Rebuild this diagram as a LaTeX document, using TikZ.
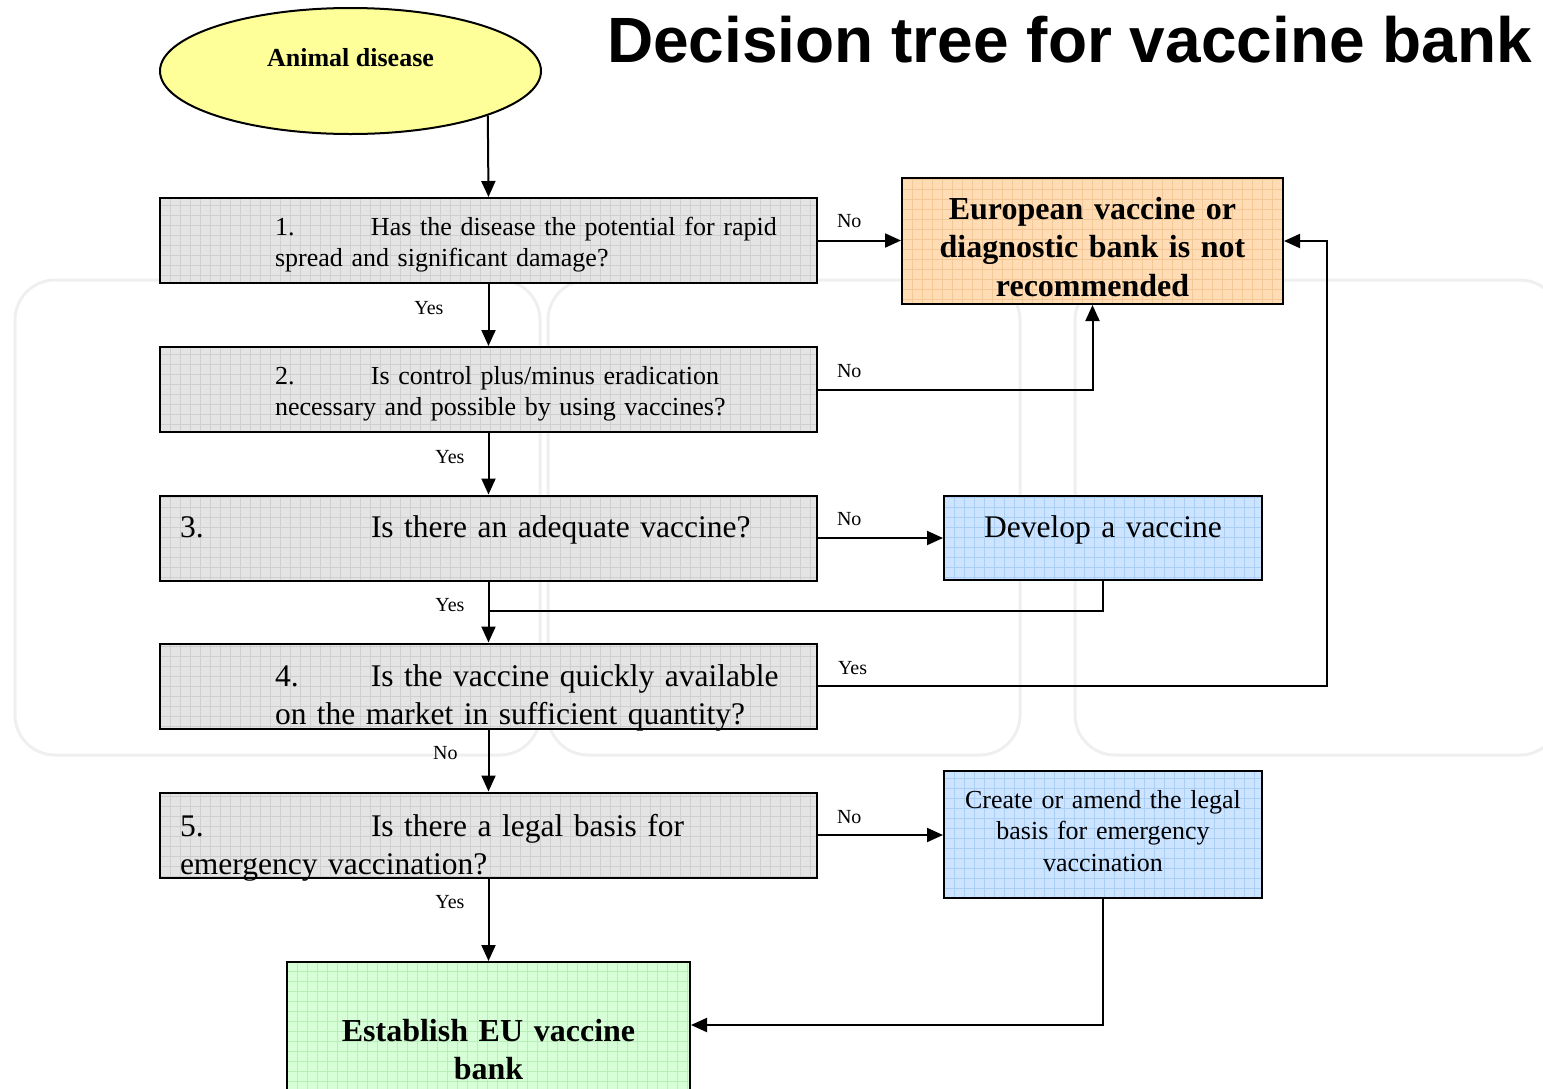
\documentclass[tikz,border=0pt]{standalone}
\usepackage{fontspec}
\setmainfont{Liberation Serif}
\newfontfamily\headfont{Liberation Sans}
\usetikzlibrary{shapes.geometric, arrows.meta, positioning}

\definecolor{qgrey}{HTML}{E4E4E4}
\definecolor{qgreyline}{HTML}{CFCFCF}
\definecolor{peach}{HTML}{FFDCB4}
\definecolor{peachline}{HTML}{F3C898}
\definecolor{skyblue}{HTML}{CCE4FF}
\definecolor{skyline}{HTML}{AACEF4}
\definecolor{mint}{HTML}{D7FFD7}
\definecolor{mintline}{HTML}{B8EEB8}
\definecolor{lemon}{HTML}{FFFF99}
\definecolor{wmark}{HTML}{EFEFEF}

\tikzset{
  gridfill/.style={path picture={\draw[#1, line width=0.6pt]
      (path picture bounding box.south west) grid[step=10pt]
      (path picture bounding box.north east);}},
  box/.style={draw, line width=2pt, rectangle, inner sep=0pt},
  qbox/.style={box, fill=qgrey, gridfill=qgreyline, minimum width=657pt,
    minimum height=85pt, text width=657pt, align=left},
  small q/.style={font=\fontsize{26}{31}\selectfont},
  big q/.style={font=\fontsize{31.5}{38}\selectfont},
  endbox/.style={box, fill=peach, gridfill=peachline, minimum width=381pt,
    minimum height=126pt, text width=381pt, align=center,
    font=\bfseries\fontsize{32}{38.5}\selectfont},
  todo/.style={box, fill=skyblue, gridfill=skyline, minimum width=318pt,
    text width=318pt, align=center},
  bankbox/.style={box, fill=mint, gridfill=mintline, minimum width=403pt,
    minimum height=140pt, text width=403pt, align=center,
    font=\bfseries\fontsize{32}{38}\selectfont},
  disease/.style={ellipse, draw, line width=2pt, fill=lemon,
    minimum width=381pt, minimum height=126pt,
    font=\bfseries\fontsize{26}{31}\selectfont},
  lbl/.style={inner sep=0pt, font=\fontsize{20}{24}\selectfont},
  arr/.style={line width=2pt, -{Triangle[length=16pt, width=14pt]}},
  link/.style={line width=2pt},
}

\begin{document}
\begin{tikzpicture}[x=1pt, y=-1pt]
\useasboundingbox (0,0) rectangle (1543,1088);

% faint background panels
\draw[wmark, line width=3pt, rounded corners=40pt] (15,280) rectangle (540,755);
\draw[wmark, line width=3pt, rounded corners=40pt] (548,280) rectangle (1020,755);
\draw[wmark, line width=3pt, rounded corners=40pt] (1075,280) rectangle (1560,755);

\node[anchor=base west, font=\headfont\bfseries\fontsize{64}{70}\selectfont, inner sep=0pt]
  (ttl) at (607,62) {Decision tree for vaccine bank};

\node[disease, text height=20pt, text depth=30pt] (dis) at (350.5,71) {Animal disease};

% questions
\node[qbox, small q, text height=34.5pt, text depth=45.5pt] (q1) at (488.5,240.5)
  {\hspace*{115pt}\makebox[96pt][l]{1.}Has the disease the potential for rapid\\
   \hspace*{115pt}spread and significant damage?};
\node[qbox, small q, text height=34.5pt, text depth=45.5pt] (q2) at (488.5,389.5)
  {\hspace*{115pt}\makebox[96pt][l]{2.}Is control plus/minus eradication\\
   \hspace*{115pt}necessary and possible by using vaccines?};
\node[qbox, big q, text height=39pt, text depth=41pt] (q3) at (488.5,538)
  {\hspace*{20pt}\makebox[191pt][l]{3.}Is there an adequate vaccine?};
\node[qbox, big q, text height=40pt, text depth=40pt] (q4) at (488.5,686)
  {\hspace*{115pt}\makebox[96pt][l]{4.}Is the vaccine quickly available\\
   \hspace*{115pt}on the market in sufficient quantity?};
\node[qbox, big q, text height=41pt, text depth=39pt] (q5) at (488.5,835)
  {\hspace*{20pt}\makebox[191pt][l]{5.}Is there a legal basis for\\
   \hspace*{20pt}emergency vaccination?};

% outcomes
\node[endbox, text height=38pt, text depth=82pt] (eur) at (1092.5,241)
  {European vaccine or\\diagnostic bank is not\\recommended};
\node[todo, big q, minimum height=84pt, text height=39pt, text depth=41pt] (dev) at (1103,538)
  {Develop a vaccine};
\node[todo, font=\fontsize{26}{31.5}\selectfont, minimum height=127pt,
  text height=33.5pt, text depth=86.5pt] (leg) at (1103,834.5)
  {Create or amend the legal\\basis for emergency\\vaccination};
\node[bankbox, text height=74pt, text depth=56pt] (est) at (488.5,1032)
  {Establish EU vaccine\\bank};

\coordinate (jn) at (488.5,611);

% connectors
\draw[arr] (dis.-18) -- (q1.north);
\draw[arr] (q1.east) -- node[lbl, pos=0, anchor=west, xshift=18pt, yshift=19pt] {No} (q1.east -| eur.west);
\draw[arr] (q1) -- node[lbl, pos=0, anchor=east, xshift=-44pt, yshift=-24pt] {Yes} (q2);
\draw[arr] (q2.east) -- node[lbl, pos=0, anchor=west, xshift=18pt, yshift=18pt] {No} (q2.east -| eur.south) -- (eur.south);
\draw[arr] (q2) -- node[lbl, pos=0, anchor=east, xshift=-23pt, yshift=-24pt] {Yes} (q3);
\draw[arr] (q3.east) -- node[lbl, pos=0, anchor=west, xshift=18pt, yshift=19pt] {No} (q3.east -| dev.west);
\draw[arr] (q3) -- node[lbl, pos=0, anchor=east, xshift=-23pt, yshift=-24pt] {Yes} (q4);
\draw[link] (dev.south) |- (jn);
\draw[arr] (q4.east) -- node[lbl, pos=0, anchor=west, xshift=19pt, yshift=18pt] {Yes}
  ([xshift=43pt]q4.east -| eur.east) |- (eur.east);
\draw[arr] (q4) -- node[lbl, pos=0, anchor=east, xshift=-30pt, yshift=-24pt] {No} (q5);
\draw[arr] (q5.east) -- node[lbl, pos=0, anchor=west, xshift=18pt, yshift=18pt] {No} (q5.east -| leg.west);
\draw[arr] (q5) -- node[lbl, pos=0, anchor=east, xshift=-23pt, yshift=-24pt] {Yes} (est);
\draw[arr] (leg.south) |- ([yshift=7pt]est.east);
\end{tikzpicture}
\end{document}
